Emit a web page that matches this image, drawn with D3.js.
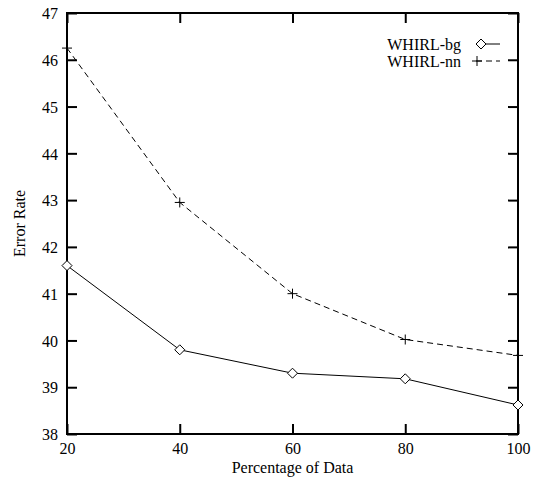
<!DOCTYPE html>
<html><head><meta charset="utf-8">
<script src="https://cdn.jsdelivr.net/npm/d3@7"></script>
<style>body{margin:0;background:#fff}svg{display:block}text{font-family:"Liberation Serif","Times New Roman",serif;fill:#000}</style>
</head><body><svg id="c" width="534" height="485"></svg>
<script>
const xValues = [20, 40, 60, 80, 100];
const bgValues = [41.6, 39.8, 39.3, 39.18, 38.62];
const nnValues = [46.25, 42.95, 41.0, 40.02, 39.68];
const xTicks = [20, 40, 60, 80, 100];
const yTicks = [38, 39, 40, 41, 42, 43, 44, 45, 46, 47];
const seriesNames = ["WHIRL-bg", "WHIRL-nn"];

const svg = d3.select("#c");
const L = 67, R = 518, T = 13, B = 434;
const x = d3.scaleLinear().domain([20, 100]).range([L, R]);
const y = d3.scaleLinear().domain([38, 47]).range([B, T]);
const tl = 10, fs = 16;

// inward ticks on all four sides
const g = svg.append("g");
const axB = g.append("g").attr("transform", `translate(0,${B})`)
  .call(d3.axisBottom(x).tickValues(xTicks).tickSizeInner(-tl).tickSizeOuter(0).tickPadding(9));
const axT = g.append("g").attr("transform", `translate(0,${T})`)
  .call(d3.axisTop(x).tickValues(xTicks).tickSizeInner(-tl).tickSizeOuter(0).tickFormat(""));
const axL = g.append("g").attr("transform", `translate(${L},0)`)
  .call(d3.axisLeft(y).tickValues(yTicks).tickSizeInner(-tl).tickSizeOuter(0).tickPadding(9));
const axR = g.append("g").attr("transform", `translate(${R},0)`)
  .call(d3.axisRight(y).tickValues(yTicks).tickSizeInner(-tl).tickSizeOuter(0).tickFormat(""));
[axB, axT, axL, axR].forEach(a => {
  a.select(".domain").remove();
  a.selectAll("line").attr("stroke", "#000").attr("stroke-width", 2);
  a.selectAll("text").attr("font-size", fs).style("font-family", '"Liberation Serif",serif').attr("fill", "#000");
});
axL.selectAll("text").attr("dy", "0.36em");

// frame
svg.append("rect").attr("x", L).attr("y", T).attr("width", R - L).attr("height", B - T)
  .attr("fill", "none").attr("stroke", "#000").attr("stroke-width", 2);

const line = d3.line().x(d => x(d[0])).y(d => y(d[1]));
const bg = xValues.map((v, i) => [v, bgValues[i]]);
const nn = xValues.map((v, i) => [v, nnValues[i]]);

svg.append("path").attr("d", line(bg)).attr("fill", "none").attr("stroke", "#000").attr("stroke-width", 1);
svg.append("path").attr("d", line(nn)).attr("fill", "none").attr("stroke", "#000").attr("stroke-width", 1).attr("stroke-dasharray", "6,4");

const dsz = 5, psz = 5;
function diamond(cx, cy) {
  svg.append("path").attr("d", `M${cx},${cy - dsz}L${cx + dsz},${cy}L${cx},${cy + dsz}L${cx - dsz},${cy}Z`)
    .attr("fill", "#fff").attr("stroke", "#000").attr("stroke-width", 1);
}
function plus(cx, cy) {
  svg.append("path").attr("d", `M${cx - psz},${cy}H${cx + psz}M${cx},${cy - psz}V${cy + psz}`)
    .attr("fill", "none").attr("stroke", "#000").attr("stroke-width", 1);
}
bg.forEach(d => diamond(x(d[0]), y(d[1])));
nn.forEach(d => plus(x(d[0]), y(d[1])));

// legend
const ly1 = 44, ly2 = 61;
svg.append("text").attr("x", 461).attr("y", ly1).attr("dy", "0.35em").attr("text-anchor", "end").attr("font-size", fs).text(seriesNames[0]);
svg.append("text").attr("x", 461).attr("y", ly2).attr("dy", "0.35em").attr("text-anchor", "end").attr("font-size", fs).text(seriesNames[1]);
svg.append("line").attr("x1", 476).attr("x2", 500).attr("y1", ly1).attr("y2", ly1).attr("stroke", "#000");
diamond(481, ly1);
svg.append("line").attr("x1", 476).attr("x2", 500).attr("y1", ly2).attr("y2", ly2).attr("stroke", "#000").attr("stroke-dasharray", "6,4");
plus(477, ly2);

// axis titles
svg.append("text").attr("x", (L + R) / 2).attr("y", 473).attr("text-anchor", "middle").attr("font-size", fs).text("Percentage of Data");
svg.append("text").attr("transform", `translate(25,${(T + B) / 2}) rotate(-90)`).attr("text-anchor", "middle").attr("font-size", fs).text("Error Rate");
</script></body></html>
